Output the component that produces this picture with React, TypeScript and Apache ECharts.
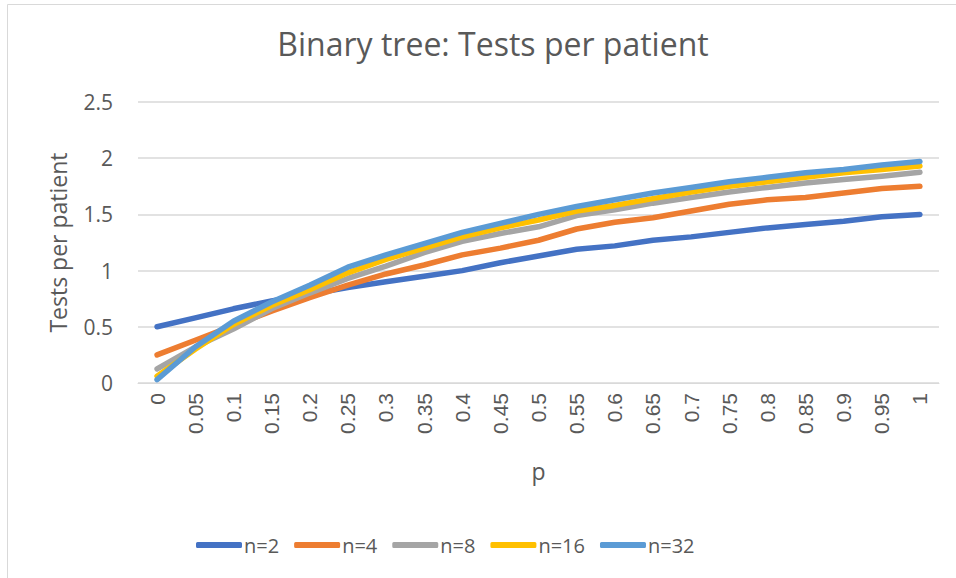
import React, { useEffect, useRef } from "react";
import * as echarts from "echarts";

const categories = ["0", "0.05", "0.1", "0.15", "0.2", "0.25", "0.3", "0.35", "0.4", "0.45", "0.5", "0.55", "0.6", "0.65", "0.7", "0.75", "0.8", "0.85", "0.9", "0.95", "1"];
const seriesNames = ["n=2", "n=4", "n=8", "n=16", "n=32"];
const n2 = [0.5, 0.58, 0.66, 0.73, 0.79, 0.85, 0.9, 0.95, 1.0, 1.07, 1.13, 1.19, 1.22, 1.27, 1.3, 1.34, 1.38, 1.41, 1.44, 1.48, 1.5];
const n4 = [0.25, 0.38, 0.51, 0.64, 0.76, 0.87, 0.97, 1.05, 1.14, 1.2, 1.27, 1.37, 1.43, 1.47, 1.53, 1.59, 1.63, 1.65, 1.69, 1.73, 1.75];
const n8 = [0.125, 0.32, 0.48, 0.66, 0.8, 0.93, 1.04, 1.16, 1.26, 1.33, 1.39, 1.49, 1.54, 1.6, 1.65, 1.7, 1.74, 1.78, 1.81, 1.84, 1.875];
const n16 = [0.06, 0.3, 0.52, 0.69, 0.83, 0.98, 1.1, 1.2, 1.3, 1.38, 1.45, 1.53, 1.58, 1.64, 1.7, 1.75, 1.79, 1.83, 1.87, 1.9, 1.93];
const n32 = [0.03, 0.32, 0.55, 0.72, 0.87, 1.03, 1.14, 1.24, 1.34, 1.42, 1.5, 1.57, 1.63, 1.69, 1.74, 1.79, 1.83, 1.87, 1.9, 1.94, 1.97];
const colors = ["#4472C4", "#ED7D31", "#A5A5A5", "#FFC000", "#5B9BD5"];
const allSeries = [n2, n4, n8, n16, n32];

const TEXT = "#595959";
const FONT = "'Open Sans', 'Noto Sans', sans-serif";

export default function App() {
  const ref = useRef<HTMLDivElement>(null);
  useEffect(() => {
    document.body.style.margin = "0";
    if (!ref.current) return;
    const chart = echarts.init(ref.current, null, { renderer: "svg" });
    chart.setOption({
      animation: false,
      backgroundColor: "#ffffff",
      color: colors,
      title: {
        text: "Binary tree: Tests per patient",
        left: 488,
        textAlign: "center",
        top: 22,
        textStyle: { color: TEXT, fontSize: 32, fontWeight: "normal", fontFamily: FONT },
      },
      graphic: [
        {
          type: "rect",
          shape: { x: 7.5, y: 4.5, width: 1000, height: 1000 },
          style: { fill: "none", stroke: "#D9D9D9", lineWidth: 1 },
          silent: true,
        },
      ],
      legend: {
        left: 191,
        top: 530,
        itemWidth: 46,
        itemHeight: 6,
        itemGap: 15,
        icon: "roundRect",
        textStyle: { color: TEXT, fontSize: 20, fontFamily: FONT, padding: [0, 0, 0, -3] },
        data: seriesNames,
      },
      grid: { left: 138, right: 17, top: 102, bottom: 195, containLabel: false },
      xAxis: {
        type: "category",
        data: categories,
        boundaryGap: true,
        name: "p",
        nameLocation: "middle",
        nameGap: 76,
        nameTextStyle: { color: TEXT, fontSize: 23, fontFamily: FONT },
        axisLine: { show: true, lineStyle: { color: "#D9D9D9", width: 1 } },
        axisTick: { show: false },
        axisLabel: {
          rotate: 90,
          interval: 0,
          margin: 10,
          color: TEXT,
          fontSize: 21,
          fontFamily: "'Liberation Sans', Arial, sans-serif",
        },
      },
      yAxis: {
        type: "value",
        min: 0,
        max: 2.5,
        interval: 0.5,
        name: "Tests per patient",
        nameLocation: "middle",
        nameGap: 69,
        nameTextStyle: { color: TEXT, fontSize: 23, fontFamily: FONT },
        axisLine: { show: false },
        axisTick: { show: false },
        axisLabel: { color: TEXT, fontSize: 21, margin: 25, fontFamily: FONT },
        splitLine: { lineStyle: { color: "#D9D9D9", width: 1.5 } },
      },
      series: allSeries.map((d, i) => ({
        name: seriesNames[i],
        type: "line",
        data: d,
        symbol: "none",
        smooth: false,
        lineStyle: { width: 5.5, color: colors[i], cap: "round", join: "round" },
        itemStyle: { color: colors[i] },
        z: 2 + i,
      })),
    });
    return () => chart.dispose();
  }, []);
  return <div ref={ref} style={{ width: 956, height: 578 }} />;
}
